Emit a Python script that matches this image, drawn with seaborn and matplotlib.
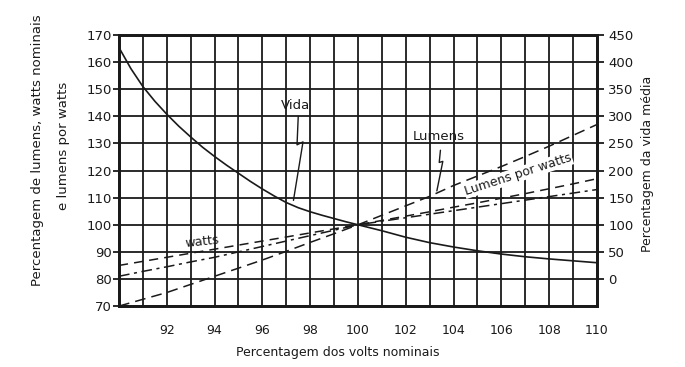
import numpy as np
import pandas as pd
import matplotlib
matplotlib.use("Agg")
import matplotlib.pyplot as plt
import seaborn as sns

# percent of nominal volts
volts = [90, 91, 92, 93, 94, 95, 96, 97, 98, 99, 100,
         101, 102, 103, 104, 105, 106, 107, 108, 109, 110]
# left axis (%)
lumens = [70, 72.5, 75, 78, 81, 84, 87, 90.2, 93.5, 96.7, 100,
          103.5, 107, 110.5, 114.5, 118, 121.5, 125.2, 129, 133, 137]
watts = [85, 86.5, 88, 89.5, 91, 92.5, 94, 95.5, 97, 98.5, 100,
         101.6, 103.2, 104.8, 106.5, 108.1, 109.8, 111.5, 113.3, 115.1, 117]
lm_per_w = [81, 82.8, 84.5, 86.3, 88, 90, 92, 94, 96, 98, 100,
            101.3, 102.6, 103.9, 105.2, 106.5, 107.8, 109.1, 110.4, 111.7, 113]

# life curve read at finer steps (right axis, % of average life)
vida_volts = [90, 90.5, 91, 91.5, 92, 92.5, 93, 93.5, 94, 94.5, 95, 95.5,
              96, 96.5, 97, 97.5, 98, 98.5, 99, 99.5, 100, 101, 102, 103,
              104, 105, 106, 107, 108, 109, 110]
vida = [427, 388, 355, 328, 304, 282, 262, 243, 226, 210, 195, 180,
        166, 153, 141, 131.5, 124, 117.5, 111.5, 105.5, 100, 89, 77, 67,
        59, 52, 46, 41, 37, 33.5, 30]

left_ticks = list(range(70, 171, 10))
right_ticks = list(range(0, 451, 50))
x_labels = list(range(92, 111, 2))

df = pd.DataFrame({"volts": volts, "lumens": lumens, "watts": watts,
                   "lmw": lm_per_w})
df_vida = pd.DataFrame({"volts": vida_volts, "vida": vida})

sns.set_style("white")
plt.rcParams["font.family"] = ["DejaVu Sans"]

fig = plt.figure(figsize=(6.85, 3.67), dpi=100)
ax = fig.add_axes([0.1737, 0.166, 0.6978, 0.7384])
ink = "#1a1a1a"

sns.lineplot(data=df, x="volts", y="lumens", ax=ax, color=ink, lw=1.1,
             linestyle=(0, (7, 4)))
sns.lineplot(data=df, x="volts", y="watts", ax=ax, color=ink, lw=1.1,
             linestyle=(0, (6, 4)))
sns.lineplot(data=df, x="volts", y="lmw", ax=ax, color=ink, lw=1.1,
             linestyle=(0, (7, 3, 2, 3)))

ax2 = ax.twinx()
sns.lineplot(data=df_vida, x="volts", y="vida", ax=ax2, color=ink, lw=1.2)

ax.set_xlim(90, 110)
ax.set_ylim(70, 170)
ax2.set_ylim(-50, 450)

ax.set_xticks(volts)
ax.set_xticklabels([str(v) if v in x_labels else "" for v in volts])
ax.set_yticks(left_ticks)
ax2.set_yticks(right_ticks)

ax.grid(True, color=ink, lw=1.3)
ax.tick_params(axis="x", length=0, pad=13, labelsize=9, colors=ink)
ax.tick_params(axis="y", length=4, width=1.3, pad=1, labelsize=9.5,
               colors=ink, left=True)
ax2.tick_params(axis="y", length=5, width=1.3, pad=3, labelsize=9.5,
                colors=ink, right=True)
for a in (ax, ax2):
    for s in a.spines.values():
        s.set_linewidth(2)
        s.set_color(ink)
ax.set_xlabel("")
ax.set_ylabel("")
ax2.set_ylabel("")
ax2.set_xlabel("")

# curve labels with zigzag leaders
ax.text(97.4, 144.2, "Vida", fontsize=9.5, ha="center", va="center", color=ink)
ax.plot([97.5, 97.45, 97.7, 97.3], [140, 129.5, 130.6, 109], color=ink, lw=1)
ax.text(103.4, 132.4, "Lumens", fontsize=9.5, ha="center", va="center", color=ink)
ax.plot([103.45, 103.4, 103.55, 103.3], [127.5, 123, 123.4, 112.5], color=ink, lw=1)
ax.text(106.7, 118.5, "Lumens por watts", fontsize=9, ha="center", va="center",
        rotation=18, color=ink, bbox=dict(fc="white", ec="none", pad=0.5))
ax.text(93.5, 93.6, "watts", fontsize=9, ha="center", va="center",
        rotation=6, color=ink)

fig.text(0.4934, 0.04, "Percentagem dos volts nominais", fontsize=9,
         ha="center", va="center", color=ink)
fig.text(38 / 685, 1 - 150 / 367, "Percentagem de lumens, watts nominais",
         fontsize=9.5, rotation=90, ha="center", va="center", color=ink)
fig.text(64 / 685, 1 - 146 / 367, "e lumens por watts",
         fontsize=9.5, rotation=90, ha="center", va="center", color=ink)
fig.text(647 / 685, 1 - 164 / 367, "Percentagem da vida média",
         fontsize=9, rotation=90, ha="center", va="center", color=ink)

fig.savefig("out.png", dpi=100)
